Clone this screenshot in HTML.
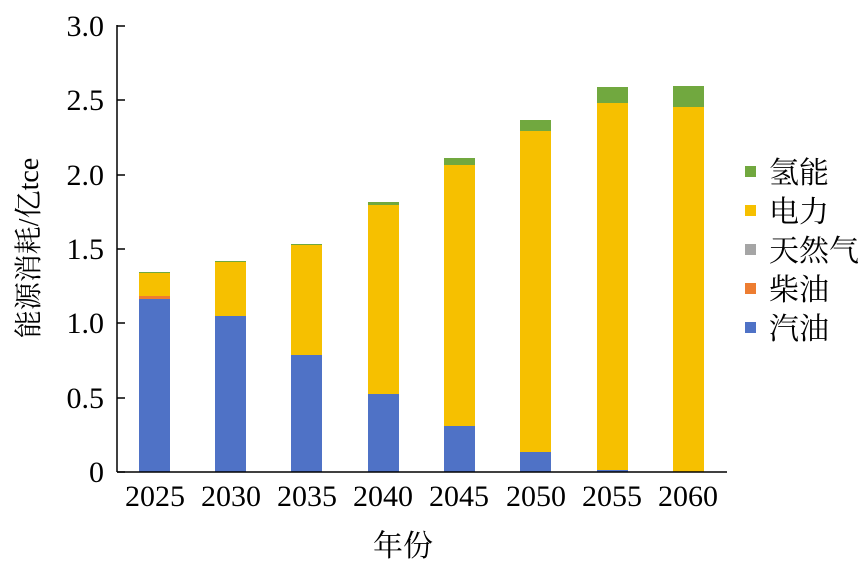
<!DOCTYPE html>
<html><head><meta charset="utf-8"><style>body{margin:0;background:#fff}svg{display:block}text{font-family:"Liberation Serif","Noto Serif CJK SC",serif;fill:#000}</style></head><body>
<svg width="865" height="573" viewBox="0 0 865 573">
<g>
<rect x="139" y="299" width="31" height="173" fill="#4f72c6"/>
<rect x="139" y="296" width="31" height="3" fill="#ed7d31"/>
<rect x="139" y="273" width="31" height="23" fill="#f6c000"/>
<rect x="139" y="272" width="31" height="1" fill="#71a83f"/>
<rect x="215" y="316" width="31" height="156" fill="#4f72c6"/>
<rect x="215" y="262" width="31" height="54" fill="#f6c000"/>
<rect x="215" y="261" width="31" height="1" fill="#71a83f"/>
<rect x="291" y="355" width="31" height="117" fill="#4f72c6"/>
<rect x="291" y="245" width="31" height="110" fill="#f6c000"/>
<rect x="291" y="244" width="31" height="1" fill="#71a83f"/>
<rect x="368" y="394" width="31" height="78" fill="#4f72c6"/>
<rect x="368" y="205" width="31" height="189" fill="#f6c000"/>
<rect x="368" y="202" width="31" height="3" fill="#71a83f"/>
<rect x="444" y="426" width="31" height="46" fill="#4f72c6"/>
<rect x="444" y="165" width="31" height="261" fill="#f6c000"/>
<rect x="444" y="158" width="31" height="7" fill="#71a83f"/>
<rect x="520" y="452" width="31" height="20" fill="#4f72c6"/>
<rect x="520" y="131" width="31" height="321" fill="#f6c000"/>
<rect x="520" y="120" width="31" height="11" fill="#71a83f"/>
<rect x="597" y="470" width="31" height="2" fill="#4f72c6"/>
<rect x="597" y="103" width="31" height="367" fill="#f6c000"/>
<rect x="597" y="87" width="31" height="16" fill="#71a83f"/>
<rect x="673" y="107" width="31" height="365" fill="#f6c000"/>
<rect x="673" y="86" width="31" height="21" fill="#71a83f"/>
</g>
<g stroke="#000" stroke-width="1.5" fill="none">
<line x1="117" y1="25" x2="117" y2="472"/>
<line x1="117" y1="472" x2="727" y2="472"/>
<path d="M117 472h8M117 398h8M117 323h8M117 249h8M117 175h8M117 100h8M117 26h8"/>
</g>
<g font-size="30" text-anchor="end">
<text x="104" y="482">0</text>
<text x="104" y="408">0.5</text>
<text x="104" y="333">1.0</text>
<text x="104" y="259">1.5</text>
<text x="104" y="185">2.0</text>
<text x="104" y="110">2.5</text>
<text x="104" y="36">3.0</text>
</g>
<g font-size="30" text-anchor="middle">
<text x="155" y="506">2025</text>
<text x="231" y="506">2030</text>
<text x="307" y="506">2035</text>
<text x="383" y="506">2040</text>
<text x="459" y="506">2045</text>
<text x="536" y="506">2050</text>
<text x="612" y="506">2055</text>
<text x="688" y="506">2060</text>
<text x="403" y="556">年份</text>
</g>
<text font-size="28" text-anchor="middle" transform="translate(38,248) rotate(-90)">能源消耗/亿tce</text>
<g font-size="30">
<rect x="745" y="166" width="11" height="11" fill="#71a83f"/><text x="769" y="183">氢能</text>
<rect x="745" y="205" width="11" height="11" fill="#f6c000"/><text x="769" y="222">电力</text>
<rect x="745" y="244" width="11" height="11" fill="#a5a5a5"/><text x="769" y="261">天然气</text>
<rect x="745" y="283" width="11" height="11" fill="#ed7d31"/><text x="769" y="300">柴油</text>
<rect x="745" y="322" width="11" height="11" fill="#4f72c6"/><text x="769" y="339">汽油</text>
</g>
</svg>
</body></html>
